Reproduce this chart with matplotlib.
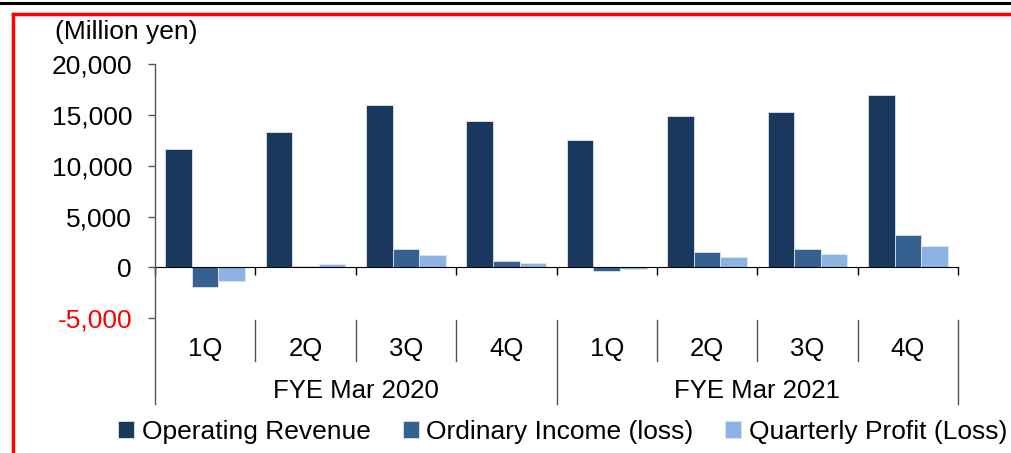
import matplotlib.pyplot as plt
import numpy as np
from matplotlib.lines import Line2D

plt.rcParams['font.family'] = ['Liberation Sans', 'DejaVu Sans']

quarters = ['1Q', '2Q', '3Q', '4Q', '1Q', '2Q', '3Q', '4Q']
years = ['FYE Mar 2020', 'FYE Mar 2021']
operating_revenue = [11700, 13300, 16000, 14400, 12500, 14900, 15300, 17000]
ordinary_income = [-1900, 120, 1800, 600, -400, 1500, 1800, 3150]
quarterly_profit = [-1400, 350, 1250, 380, -150, 1050, 1280, 2050]

series = [
    ('Operating Revenue', operating_revenue, '#1A375E'),
    ('Ordinary Income (loss)', ordinary_income, '#36608F'),
    ('Quarterly Profit (Loss)', quarterly_profit, '#8DB3E2'),
]

W, H = 1012, 453
fig = plt.figure(figsize=(W / 100, H / 100), dpi=100)
ax = fig.add_axes([155 / W, 1 - 318 / H, (958 - 155) / W, (318 - 64.3) / H])

x = np.arange(len(quarters))
width = 0.265
for i, (name, vals, color) in enumerate(series):
    ax.bar(x + (i - 1) * width, vals, width, color=color, label=name,
           edgecolor='#dde4ee', linewidth=0.6, zorder=2)

ax.set_xlim(-0.5, len(quarters) - 0.5)
ax.set_ylim(-5000, 20000)
ax.set_yticks(np.arange(-5000, 20001, 5000))
ax.set_yticklabels([f'{v:,}' for v in range(-5000, 20001, 5000)], fontsize=19)
ax.get_yticklabels()[0].set_color('red')
ax.tick_params(axis='y', direction='out', length=5, width=1, pad=11.5, color='#555555')

for s in ['top', 'right', 'left']:
    ax.spines[s].set_visible(False)
ax.spines['bottom'].set_position(('data', 0))
ax.spines['bottom'].set_color('black')
ax.set_xticks(np.arange(-0.5, len(quarters), 1.0))
ax.set_xticklabels([''] * (len(quarters) + 1))
ax.tick_params(axis='x', direction='out', length=6, width=1, color='black')

# y axis line extends down through category area
ax.plot([-0.5, -0.5], [20000, -13470], color='#555555', lw=1, clip_on=False, zorder=3)

# multi-level category axis
for b in range(1, len(quarters) + 1):
    yb = -13470 if b % 4 == 0 else -9230
    ax.plot([b - 0.5, b - 0.5], [-5150, yb], color='#555555', lw=1, clip_on=False)
for i, q in enumerate(quarters):
    ax.text(i, -8030, q, ha='center', va='center', fontsize=18.5)
for j, yr in enumerate(years):
    ax.text(j * 4 + 1.5, -12190, yr, ha='center', va='center', fontsize=18.5)

fig.text(55 / W, 1 - 32 / H, '(Million yen)', ha='left', va='center', fontsize=19)

leg = fig.legend(loc='center', bbox_to_anchor=(563 / W, 1 - 432 / H), ncol=3,
                 frameon=False, fontsize=19, handlelength=0.6, handleheight=0.6,
                 handletextpad=0.3, columnspacing=1.2)

# frame lines
fig.add_artist(Line2D([0, 1], [1 - 3 / H, 1 - 3 / H], color='black', lw=2.2))
fig.add_artist(Line2D([13 / W, 1], [1 - 13.5 / H, 1 - 13.5 / H], color='red', lw=2.5))
fig.add_artist(Line2D([13 / W, 13 / W], [1 - 13.5 / H, 0], color='red', lw=2.5))

fig.savefig('out.png', dpi=100)
